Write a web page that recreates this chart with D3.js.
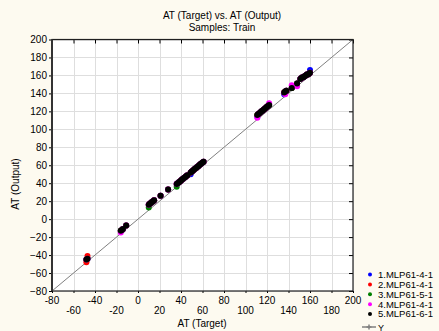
<!DOCTYPE html>
<html><head><meta charset="utf-8">
<script src="https://cdn.jsdelivr.net/npm/d3@7"></script>
<style>body{margin:0;background:#fdfaf0;}svg{display:block;font-family:"Liberation Sans",Arial,sans-serif;}</style>
</head><body><svg id="c" width="439" height="331"></svg>
<script>
const titleLines = ["AT (Target) vs. AT (Output)", "Samples: Train"];
const xLabel = "AT (Target)";
const yLabel = "AT (Output)";
const ticks = [-80,-60,-40,-20,0,20,40,60,80,100,120,140,160,180,200];
const seriesNames = ["1.MLP61-4-1","2.MLP61-4-1","3.MLP61-5-1","4.MLP61-4-1","5.MLP61-6-1"];
const seriesColors = ["#0000ff","#ff0000","#008000","#ff00ff","#000000"];
const targets = [-48,-47, -16,-15,-14,-11, 10,11,12,13,14,15, 21,28,
 36,37,38,39,40,41,42,43,44,45,46,
 49,50,51,52,53,54,55,56,57,58,59,60,61,
 111,112,113,114,115,116,117,118,119,120,121,122,
 136,137,138, 143,148,151,152,153,154,155,156,157,158,159,160];
const out5 = [-45,-44, -13,-12,-11,-7, 16,17,18,19,20,21, 26,33,
 39,40,41,42,43,44,45,46,47,48,49,
 52,53,54,55,56,57,58,59,60,61,62,63,64,
 116,117,118,119,120,121,122,123,124,125,126,127,
 141,142,143, 146,151,156,157,158,158,159,160,161,161,162,163];
const out1 = [-45,-44, -13,-12,-11,-7, 16,17,18,19,20,21, 26,33,
 39,40,41,42,43,44,45,46,47,48,49,
 50,53,54,55,56,57,58,59,60,61,62,63,64,
 114,117,118,119,120,121,122,123,124,125,126,127,
 139,142,143, 146,151,156,157,158,158,159,160,161,161,162,166];
const out2 = [-48,-41, -13,-12,-11,-7, 16,17,18,19,20,21, 26,33,
 39,40,41,42,43,44,45,46,47,48,49,
 52,53,54,55,56,57,58,59,60,61,62,63,64,
 116,117,118,119,120,121,122,123,124,125,126,127,
 141,142,143, 146,151,156,157,158,158,159,160,161,161,162,163];
const out3 = [-45,-44, -13,-12,-11,-7, 13,17,18,19,20,21, 26,33,
 36,40,41,42,43,44,45,46,47,48,49,
 52,53,54,55,56,57,58,59,60,61,62,63,64,
 116,117,118,119,120,121,122,123,124,125,126,127,
 141,142,143, 146,151,156,157,158,158,159,160,161,161,162,163];
const out4 = [-45,-44, -15,-12,-11,-7, 16,17,18,19,20,21, 26,33,
 39,40,41,42,43,44,45,46,47,48,49,
 52,53,54,55,56,57,58,59,60,61,62,63,64,
 113,117,118,119,120,121,122,123,124,125,126,129,
 141,139,143, 149,148,156,157,158,158,159,160,161,161,162,163];
const outputs = [out1,out2,out3,out4,out5];

const svg = d3.select("#c");
const L=52, R=353, T=39.5, B=291;
const x = d3.scaleLinear().domain([-80,200]).range([L,R]);
const y = d3.scaleLinear().domain([-80,200]).range([B,T]);

svg.append("rect").attr("x",L).attr("y",T).attr("width",R-L).attr("height",B-T).attr("fill","#fff");
const grid = svg.append("g").attr("stroke","#dedede").attr("stroke-width",1);
ticks.forEach(t=>{
  grid.append("line").attr("x1",Math.round(x(t))+0.5).attr("x2",Math.round(x(t))+0.5).attr("y1",T).attr("y2",B);
  grid.append("line").attr("y1",Math.round(y(t))+0.5).attr("y2",Math.round(y(t))+0.5).attr("x1",L).attr("x2",R);
});
svg.append("line").attr("x1",x(-80)).attr("y1",y(-80)).attr("x2",x(200)).attr("y2",y(200))
  .attr("stroke","#808080").attr("stroke-width",1);

outputs.forEach((o,si)=>{
  svg.append("g").selectAll("circle").data(targets.map((t,i)=>[t,o[i]])).join("circle")
    .attr("cx",d=>x(d[0])).attr("cy",d=>y(d[1])).attr("r",3)
    .attr("fill",seriesColors[si]);
});

const axLeft = d3.axisLeft(y).tickValues(ticks).tickSize(3).tickPadding(2);
svg.append("g").attr("transform",`translate(${L},0)`).call(axLeft)
  .call(g=>{g.select(".domain").remove();g.selectAll("text").attr("font-size",10).attr("font-family","Liberation Sans, Arial").attr("fill","#000");});
const axRight = d3.axisLeft(y).tickValues(ticks).tickSize(4).tickFormat("");
svg.append("g").attr("transform",`translate(${R},0)`).call(axRight).call(g=>g.select(".domain").remove());
const axTop = d3.axisBottom(x).tickValues(ticks).tickSize(4).tickFormat("");
svg.append("g").attr("transform",`translate(0,${T})`).call(axTop).call(g=>g.select(".domain").remove());
const axBottom = d3.axisBottom(x).tickValues(ticks).tickSize(2).tickFormat("");
svg.append("g").attr("transform",`translate(0,${B})`).call(axBottom).call(g=>g.select(".domain").remove());
svg.append("g").selectAll("text").data(ticks).join("text")
  .attr("x",d=>x(d)).attr("y",(d,i)=>i%2===0?303.5:313.5).attr("text-anchor","middle")
  .attr("font-size",10).text(d=>d);
svg.append("rect").attr("x",L).attr("y",T).attr("width",R-L).attr("height",B-T)
  .attr("fill","none").attr("stroke","#202020").attr("stroke-width",1.2);
svg.append("line").attr("x1",L).attr("x2",L).attr("y1",T).attr("y2",B).attr("stroke","#333").attr("stroke-width",2);

svg.append("g").selectAll("text").data(titleLines).join("text")
  .attr("x",222).attr("y",(d,i)=>19+i*11.5).attr("text-anchor","middle").attr("font-size",10).text(d=>d);
svg.append("text").attr("x",202).attr("y",327).attr("text-anchor","middle").attr("font-size",10).text(xLabel);
svg.append("text").attr("transform","translate(19,184) rotate(-90)").attr("text-anchor","middle").attr("font-size",10).text(yLabel);

const lg = svg.append("g");
seriesNames.forEach((n,i)=>{
  const yy = 274.5 + i*9.9;
  lg.append("circle").attr("cx",370).attr("cy",yy).attr("r",2).attr("fill",seriesColors[i]);
  lg.append("text").attr("x",378).attr("y",yy+3.3).attr("font-size",9.5).text(n);
});
lg.append("line").attr("x1",362).attr("x2",376).attr("y1",327).attr("y2",327).attr("stroke","#808080").attr("stroke-width",1.5);
lg.append("path").attr("d","M369,324.5V329.5M366.5,327H371.5").attr("stroke","#808080").attr("stroke-width",1.5);
lg.append("text").attr("x",378).attr("y",330.5).attr("font-size",9).text("Y");
</script></body></html>
